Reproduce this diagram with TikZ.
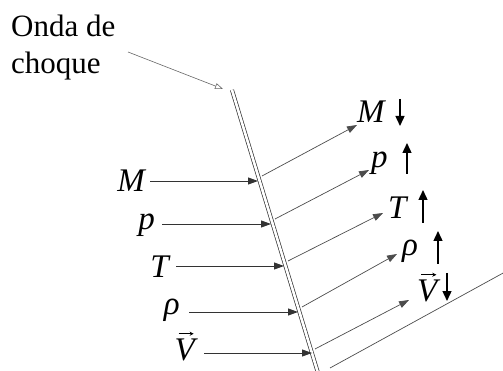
\documentclass[tikz,border=0pt]{standalone}
\usepackage{fontspec}
\setmainfont{Liberation Serif}
\usetikzlibrary{positioning,arrows.meta,calc}
\tikzset{
  shockline/.style={double, double distance=2.6pt, line width=0.7pt, draw=black!80},
  inarrow/.style={-{Triangle[length=10pt,width=7pt]}, line width=0.9pt, draw=black!80},
  outarrow/.style={-{Triangle[length=10pt,width=7pt]}, line width=0.7pt, draw=black!70},
  trendarrow/.style={-{Triangle[length=10pt,width=9pt]}, line width=1.4pt},
  vecarrow/.style={-{Stealth[length=4pt,width=4pt]}, line width=0.7pt},
  varlabel/.style={font=\fontsize{33}{38}\selectfont\itshape, inner sep=0pt},
  pointer/.style={-{Triangle[open,length=8pt,width=6pt]}, line width=0.6pt, draw=black!60},
}
\begin{document}
\begin{tikzpicture}[x=1pt, y=-1pt]
  \useasboundingbox (0,0) rectangle (503,371);
  % onda de choque
  \coordinate (sTop) at (232,90);
  \coordinate (sBot) at (318,373);
  \draw[shockline] (sTop) -- (sBot);
  \node[font=\fontsize{31}{37}\selectfont, align=left, anchor=north west, inner sep=0pt] (onda) at (11,15) {Onda de\\choque};
  \coordinate (pStart) at (128,52);
  \coordinate (pTip) at (223,89);
  \draw[pointer] (pStart) -- (pTip);
  % antes do choque
  \node[varlabel, anchor=east] (lM) at (145,181) {M};
  \node[varlabel, anchor=east] (lp) at (155,225) {p};
  \node[varlabel, anchor=east] (lT) at (169,267) {T};
  \node[varlabel, anchor=east] (lr) at (180,310) {ρ};
  \node[varlabel, anchor=east] (lV) at (195,350) {V};
  \draw[vecarrow] ($(lV.north)+(-6,-5)$) -- ++(15,0);
  \coordinate (iM) at (258,181);
  \coordinate (ip) at (271,224);
  \coordinate (iT) at (284,266);
  \coordinate (ir) at (298,312);
  \coordinate (iV) at (312,353);
  \draw[inarrow] (lM.east |- iM) ++(5,0) -- (iM);
  \draw[inarrow] (lp.east |- ip) ++(7,0) -- (ip);
  \draw[inarrow] (lT.east |- iT) ++(7,0) -- (iT);
  \draw[inarrow] (lr.east |- ir) ++(9,0) -- (ir);
  \draw[inarrow] (lV.east |- iV) ++(9,0) -- (iV);
  % depois do choque
  \coordinate (oM) at (262,176);
  \coordinate (op) at (275,219);
  \coordinate (oT) at (288,261);
  \coordinate (or) at (302,307);
  \coordinate (oV) at (315,349);
  \node[varlabel, anchor=west] (rM) at (357,112) {M};
  \node[varlabel, anchor=west] (rp) at (371,163) {p};
  \node[varlabel, anchor=west] (rT) at (388,208) {T};
  \node[varlabel, anchor=west] (rr) at (402,251) {ρ};
  \node[varlabel, anchor=west] (rV) at (417,291) {V};
  \draw[vecarrow] ($(rV.north)+(-6,-5)$) -- ++(15,0);
  \draw[outarrow] (oM) -- (357,125);
  \draw[outarrow] (op) -- (369,170);
  \draw[outarrow] (oT) -- (383,213);
  \draw[outarrow] (or) -- (397,254);
  \draw[outarrow] (oV) -- (409,300);
  \coordinate (fS) at (330,368);
  \coordinate (fE) at (505,272);
  \draw[line width=0.7pt, draw=black!70] (fS) -- (fE);
  % tendencias
  \draw[trendarrow] (400,99) -- (400,126);
  \draw[trendarrow] (407,174) -- (407,143);
  \draw[trendarrow] (423,223) -- (423,190);
  \draw[trendarrow] (438,264) -- (438,231);
  \draw[trendarrow] (447,273) -- (447,301);
\end{tikzpicture}
\end{document}
